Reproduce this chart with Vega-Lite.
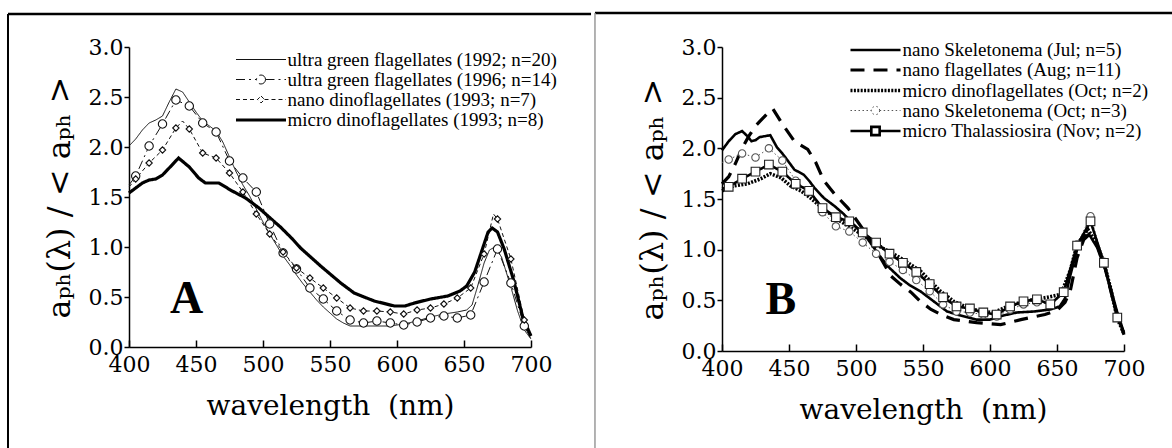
{
  "$schema": "https://vega.github.io/schema/vega-lite/v6.json",
  "background": "white",
  "padding": {"left": 6, "top": 11, "right": 0, "bottom": 0},
  "spacing": 0,
  "config": {
    "font": "Liberation Serif",
    "view": {"stroke": null},
    "axis": {"domainColor": "black", "domainWidth": 1.5, "tickColor": "black", "tickWidth": 1.5, "labelFontSize": 22, "labelColor": "black", "titleFontWeight": "normal", "titleColor": "black", "grid": false, "labelFlush": false, "labelOverlap": false},
    "legend": {"labelFont": "Liberation Serif", "labelFontSize": 19, "labelColor": "black", "labelLimit": 0, "padding": 0, "symbolSize": 278, "labelOffset": 16.5}
  },
  "datasets": {
    "d": [
      {"p":"A","s":"ultra green flagellates (1992; n=20)","x":400,"y":2.01},{"p":"A","s":"ultra green flagellates (1992; n=20)","x":405,"y":2.08},{"p":"A","s":"ultra green flagellates (1992; n=20)","x":410,"y":2.17},{"p":"A","s":"ultra green flagellates (1992; n=20)","x":415,"y":2.24},{"p":"A","s":"ultra green flagellates (1992; n=20)","x":420,"y":2.27},{"p":"A","s":"ultra green flagellates (1992; n=20)","x":425,"y":2.31},{"p":"A","s":"ultra green flagellates (1992; n=20)","x":430,"y":2.45},{"p":"A","s":"ultra green flagellates (1992; n=20)","x":435,"y":2.58},{"p":"A","s":"ultra green flagellates (1992; n=20)","x":440,"y":2.55},{"p":"A","s":"ultra green flagellates (1992; n=20)","x":445,"y":2.45},{"p":"A","s":"ultra green flagellates (1992; n=20)","x":450,"y":2.35},{"p":"A","s":"ultra green flagellates (1992; n=20)","x":455,"y":2.26},{"p":"A","s":"ultra green flagellates (1992; n=20)","x":460,"y":2.21},{"p":"A","s":"ultra green flagellates (1992; n=20)","x":465,"y":2.16},{"p":"A","s":"ultra green flagellates (1992; n=20)","x":470,"y":2.05},{"p":"A","s":"ultra green flagellates (1992; n=20)","x":475,"y":1.9},{"p":"A","s":"ultra green flagellates (1992; n=20)","x":480,"y":1.75},{"p":"A","s":"ultra green flagellates (1992; n=20)","x":485,"y":1.62},{"p":"A","s":"ultra green flagellates (1992; n=20)","x":490,"y":1.51},{"p":"A","s":"ultra green flagellates (1992; n=20)","x":495,"y":1.38},{"p":"A","s":"ultra green flagellates (1992; n=20)","x":500,"y":1.25},{"p":"A","s":"ultra green flagellates (1992; n=20)","x":505,"y":1.13},{"p":"A","s":"ultra green flagellates (1992; n=20)","x":510,"y":1.02},{"p":"A","s":"ultra green flagellates (1992; n=20)","x":515,"y":0.91},{"p":"A","s":"ultra green flagellates (1992; n=20)","x":520,"y":0.82},{"p":"A","s":"ultra green flagellates (1992; n=20)","x":525,"y":0.72},{"p":"A","s":"ultra green flagellates (1992; n=20)","x":530,"y":0.63},{"p":"A","s":"ultra green flagellates (1992; n=20)","x":535,"y":0.55},{"p":"A","s":"ultra green flagellates (1992; n=20)","x":540,"y":0.47},{"p":"A","s":"ultra green flagellates (1992; n=20)","x":545,"y":0.4},{"p":"A","s":"ultra green flagellates (1992; n=20)","x":550,"y":0.34},{"p":"A","s":"ultra green flagellates (1992; n=20)","x":555,"y":0.28},{"p":"A","s":"ultra green flagellates (1992; n=20)","x":560,"y":0.24},{"p":"A","s":"ultra green flagellates (1992; n=20)","x":565,"y":0.21},{"p":"A","s":"ultra green flagellates (1992; n=20)","x":575,"y":0.21},{"p":"A","s":"ultra green flagellates (1992; n=20)","x":585,"y":0.21},{"p":"A","s":"ultra green flagellates (1992; n=20)","x":595,"y":0.21},{"p":"A","s":"ultra green flagellates (1992; n=20)","x":605,"y":0.23},{"p":"A","s":"ultra green flagellates (1992; n=20)","x":615,"y":0.26},{"p":"A","s":"ultra green flagellates (1992; n=20)","x":625,"y":0.3},{"p":"A","s":"ultra green flagellates (1992; n=20)","x":635,"y":0.33},{"p":"A","s":"ultra green flagellates (1992; n=20)","x":645,"y":0.35},{"p":"A","s":"ultra green flagellates (1992; n=20)","x":652,"y":0.37},{"p":"A","s":"ultra green flagellates (1992; n=20)","x":656,"y":0.42},{"p":"A","s":"ultra green flagellates (1992; n=20)","x":660,"y":0.6},{"p":"A","s":"ultra green flagellates (1992; n=20)","x":665,"y":0.84},{"p":"A","s":"ultra green flagellates (1992; n=20)","x":669,"y":0.97},{"p":"A","s":"ultra green flagellates (1992; n=20)","x":673,"y":1.0},{"p":"A","s":"ultra green flagellates (1992; n=20)","x":678,"y":0.9},{"p":"A","s":"ultra green flagellates (1992; n=20)","x":685,"y":0.6},{"p":"A","s":"ultra green flagellates (1992; n=20)","x":690,"y":0.36},{"p":"A","s":"ultra green flagellates (1992; n=20)","x":695,"y":0.17},{"p":"A","s":"ultra green flagellates (1992; n=20)","x":700,"y":0.08},
      {"p":"A","s":"ultra green flagellates (1996; n=14)","x":400,"y":1.62},{"p":"A","s":"ultra green flagellates (1996; n=14)","x":405,"y":1.71},{"p":"A","s":"ultra green flagellates (1996; n=14)","x":415,"y":2.01},{"p":"A","s":"ultra green flagellates (1996; n=14)","x":425,"y":2.23},{"p":"A","s":"ultra green flagellates (1996; n=14)","x":435,"y":2.47},{"p":"A","s":"ultra green flagellates (1996; n=14)","x":445,"y":2.41},{"p":"A","s":"ultra green flagellates (1996; n=14)","x":455,"y":2.24},{"p":"A","s":"ultra green flagellates (1996; n=14)","x":465,"y":2.15},{"p":"A","s":"ultra green flagellates (1996; n=14)","x":475,"y":1.86},{"p":"A","s":"ultra green flagellates (1996; n=14)","x":485,"y":1.69},{"p":"A","s":"ultra green flagellates (1996; n=14)","x":495,"y":1.55},{"p":"A","s":"ultra green flagellates (1996; n=14)","x":505,"y":1.23},{"p":"A","s":"ultra green flagellates (1996; n=14)","x":515,"y":0.94},{"p":"A","s":"ultra green flagellates (1996; n=14)","x":525,"y":0.78},{"p":"A","s":"ultra green flagellates (1996; n=14)","x":535,"y":0.59},{"p":"A","s":"ultra green flagellates (1996; n=14)","x":545,"y":0.48},{"p":"A","s":"ultra green flagellates (1996; n=14)","x":555,"y":0.36},{"p":"A","s":"ultra green flagellates (1996; n=14)","x":565,"y":0.27},{"p":"A","s":"ultra green flagellates (1996; n=14)","x":575,"y":0.24},{"p":"A","s":"ultra green flagellates (1996; n=14)","x":585,"y":0.26},{"p":"A","s":"ultra green flagellates (1996; n=14)","x":595,"y":0.24},{"p":"A","s":"ultra green flagellates (1996; n=14)","x":605,"y":0.22},{"p":"A","s":"ultra green flagellates (1996; n=14)","x":615,"y":0.25},{"p":"A","s":"ultra green flagellates (1996; n=14)","x":625,"y":0.29},{"p":"A","s":"ultra green flagellates (1996; n=14)","x":635,"y":0.31},{"p":"A","s":"ultra green flagellates (1996; n=14)","x":645,"y":0.29},{"p":"A","s":"ultra green flagellates (1996; n=14)","x":655,"y":0.32},{"p":"A","s":"ultra green flagellates (1996; n=14)","x":665,"y":0.65},{"p":"A","s":"ultra green flagellates (1996; n=14)","x":675,"y":0.98},{"p":"A","s":"ultra green flagellates (1996; n=14)","x":685,"y":0.64},{"p":"A","s":"ultra green flagellates (1996; n=14)","x":695,"y":0.21},{"p":"A","s":"ultra green flagellates (1996; n=14)","x":700,"y":0.08},
      {"p":"A","s":"nano dinoflagellates (1993; n=7)","x":400,"y":1.6},{"p":"A","s":"nano dinoflagellates (1993; n=7)","x":405,"y":1.68},{"p":"A","s":"nano dinoflagellates (1993; n=7)","x":415,"y":1.84},{"p":"A","s":"nano dinoflagellates (1993; n=7)","x":425,"y":1.97},{"p":"A","s":"nano dinoflagellates (1993; n=7)","x":430,"y":2.08},{"p":"A","s":"nano dinoflagellates (1993; n=7)","x":435,"y":2.19},{"p":"A","s":"nano dinoflagellates (1993; n=7)","x":440,"y":2.26},{"p":"A","s":"nano dinoflagellates (1993; n=7)","x":445,"y":2.18},{"p":"A","s":"nano dinoflagellates (1993; n=7)","x":455,"y":1.94},{"p":"A","s":"nano dinoflagellates (1993; n=7)","x":465,"y":1.89},{"p":"A","s":"nano dinoflagellates (1993; n=7)","x":475,"y":1.74},{"p":"A","s":"nano dinoflagellates (1993; n=7)","x":485,"y":1.55},{"p":"A","s":"nano dinoflagellates (1993; n=7)","x":495,"y":1.33},{"p":"A","s":"nano dinoflagellates (1993; n=7)","x":505,"y":1.13},{"p":"A","s":"nano dinoflagellates (1993; n=7)","x":515,"y":0.95},{"p":"A","s":"nano dinoflagellates (1993; n=7)","x":525,"y":0.79},{"p":"A","s":"nano dinoflagellates (1993; n=7)","x":535,"y":0.69},{"p":"A","s":"nano dinoflagellates (1993; n=7)","x":545,"y":0.59},{"p":"A","s":"nano dinoflagellates (1993; n=7)","x":555,"y":0.49},{"p":"A","s":"nano dinoflagellates (1993; n=7)","x":565,"y":0.39},{"p":"A","s":"nano dinoflagellates (1993; n=7)","x":575,"y":0.36},{"p":"A","s":"nano dinoflagellates (1993; n=7)","x":585,"y":0.36},{"p":"A","s":"nano dinoflagellates (1993; n=7)","x":595,"y":0.35},{"p":"A","s":"nano dinoflagellates (1993; n=7)","x":605,"y":0.33},{"p":"A","s":"nano dinoflagellates (1993; n=7)","x":615,"y":0.37},{"p":"A","s":"nano dinoflagellates (1993; n=7)","x":625,"y":0.39},{"p":"A","s":"nano dinoflagellates (1993; n=7)","x":635,"y":0.43},{"p":"A","s":"nano dinoflagellates (1993; n=7)","x":645,"y":0.49},{"p":"A","s":"nano dinoflagellates (1993; n=7)","x":655,"y":0.59},{"p":"A","s":"nano dinoflagellates (1993; n=7)","x":665,"y":0.93},{"p":"A","s":"nano dinoflagellates (1993; n=7)","x":672,"y":1.33},{"p":"A","s":"nano dinoflagellates (1993; n=7)","x":675,"y":1.28},{"p":"A","s":"nano dinoflagellates (1993; n=7)","x":685,"y":0.88},{"p":"A","s":"nano dinoflagellates (1993; n=7)","x":695,"y":0.27},{"p":"A","s":"nano dinoflagellates (1993; n=7)","x":700,"y":0.12},
      {"p":"A","s":"micro dinoflagellates (1993; n=8)","x":400,"y":1.54},{"p":"A","s":"micro dinoflagellates (1993; n=8)","x":405,"y":1.59},{"p":"A","s":"micro dinoflagellates (1993; n=8)","x":410,"y":1.64},{"p":"A","s":"micro dinoflagellates (1993; n=8)","x":415,"y":1.67},{"p":"A","s":"micro dinoflagellates (1993; n=8)","x":420,"y":1.68},{"p":"A","s":"micro dinoflagellates (1993; n=8)","x":425,"y":1.72},{"p":"A","s":"micro dinoflagellates (1993; n=8)","x":430,"y":1.79},{"p":"A","s":"micro dinoflagellates (1993; n=8)","x":437,"y":1.89},{"p":"A","s":"micro dinoflagellates (1993; n=8)","x":445,"y":1.8},{"p":"A","s":"micro dinoflagellates (1993; n=8)","x":452,"y":1.69},{"p":"A","s":"micro dinoflagellates (1993; n=8)","x":457,"y":1.64},{"p":"A","s":"micro dinoflagellates (1993; n=8)","x":467,"y":1.64},{"p":"A","s":"micro dinoflagellates (1993; n=8)","x":477,"y":1.56},{"p":"A","s":"micro dinoflagellates (1993; n=8)","x":487,"y":1.49},{"p":"A","s":"micro dinoflagellates (1993; n=8)","x":497,"y":1.39},{"p":"A","s":"micro dinoflagellates (1993; n=8)","x":507,"y":1.27},{"p":"A","s":"micro dinoflagellates (1993; n=8)","x":513,"y":1.2},{"p":"A","s":"micro dinoflagellates (1993; n=8)","x":522,"y":1.08},{"p":"A","s":"micro dinoflagellates (1993; n=8)","x":528,"y":0.99},{"p":"A","s":"micro dinoflagellates (1993; n=8)","x":543,"y":0.81},{"p":"A","s":"micro dinoflagellates (1993; n=8)","x":558,"y":0.64},{"p":"A","s":"micro dinoflagellates (1993; n=8)","x":568,"y":0.54},{"p":"A","s":"micro dinoflagellates (1993; n=8)","x":583,"y":0.46},{"p":"A","s":"micro dinoflagellates (1993; n=8)","x":598,"y":0.41},{"p":"A","s":"micro dinoflagellates (1993; n=8)","x":606,"y":0.41},{"p":"A","s":"micro dinoflagellates (1993; n=8)","x":613,"y":0.44},{"p":"A","s":"micro dinoflagellates (1993; n=8)","x":625,"y":0.48},{"p":"A","s":"micro dinoflagellates (1993; n=8)","x":638,"y":0.51},{"p":"A","s":"micro dinoflagellates (1993; n=8)","x":647,"y":0.56},{"p":"A","s":"micro dinoflagellates (1993; n=8)","x":652,"y":0.61},{"p":"A","s":"micro dinoflagellates (1993; n=8)","x":658,"y":0.75},{"p":"A","s":"micro dinoflagellates (1993; n=8)","x":663,"y":0.95},{"p":"A","s":"micro dinoflagellates (1993; n=8)","x":668,"y":1.15},{"p":"A","s":"micro dinoflagellates (1993; n=8)","x":671,"y":1.19},{"p":"A","s":"micro dinoflagellates (1993; n=8)","x":675,"y":1.15},{"p":"A","s":"micro dinoflagellates (1993; n=8)","x":680,"y":0.98},{"p":"A","s":"micro dinoflagellates (1993; n=8)","x":687,"y":0.67},{"p":"A","s":"micro dinoflagellates (1993; n=8)","x":694,"y":0.29},{"p":"A","s":"micro dinoflagellates (1993; n=8)","x":700,"y":0.11},
      {"p":"B","s":"nano Skeletonema (Jul; n=5)","x":400,"y":1.98},{"p":"B","s":"nano Skeletonema (Jul; n=5)","x":405,"y":2.07},{"p":"B","s":"nano Skeletonema (Jul; n=5)","x":410,"y":2.14},{"p":"B","s":"nano Skeletonema (Jul; n=5)","x":415,"y":2.17},{"p":"B","s":"nano Skeletonema (Jul; n=5)","x":419,"y":2.12},{"p":"B","s":"nano Skeletonema (Jul; n=5)","x":422,"y":2.07},{"p":"B","s":"nano Skeletonema (Jul; n=5)","x":425,"y":2.08},{"p":"B","s":"nano Skeletonema (Jul; n=5)","x":428,"y":2.11},{"p":"B","s":"nano Skeletonema (Jul; n=5)","x":432,"y":2.12},{"p":"B","s":"nano Skeletonema (Jul; n=5)","x":436,"y":2.13},{"p":"B","s":"nano Skeletonema (Jul; n=5)","x":441,"y":2.01},{"p":"B","s":"nano Skeletonema (Jul; n=5)","x":445,"y":1.95},{"p":"B","s":"nano Skeletonema (Jul; n=5)","x":449,"y":1.88},{"p":"B","s":"nano Skeletonema (Jul; n=5)","x":454,"y":1.79},{"p":"B","s":"nano Skeletonema (Jul; n=5)","x":461,"y":1.74},{"p":"B","s":"nano Skeletonema (Jul; n=5)","x":465,"y":1.68},{"p":"B","s":"nano Skeletonema (Jul; n=5)","x":469,"y":1.61},{"p":"B","s":"nano Skeletonema (Jul; n=5)","x":476,"y":1.51},{"p":"B","s":"nano Skeletonema (Jul; n=5)","x":484,"y":1.43},{"p":"B","s":"nano Skeletonema (Jul; n=5)","x":491,"y":1.35},{"p":"B","s":"nano Skeletonema (Jul; n=5)","x":498,"y":1.25},{"p":"B","s":"nano Skeletonema (Jul; n=5)","x":508,"y":1.12},{"p":"B","s":"nano Skeletonema (Jul; n=5)","x":518,"y":0.93},{"p":"B","s":"nano Skeletonema (Jul; n=5)","x":525,"y":0.82},{"p":"B","s":"nano Skeletonema (Jul; n=5)","x":533,"y":0.72},{"p":"B","s":"nano Skeletonema (Jul; n=5)","x":540,"y":0.65},{"p":"B","s":"nano Skeletonema (Jul; n=5)","x":548,"y":0.59},{"p":"B","s":"nano Skeletonema (Jul; n=5)","x":558,"y":0.49},{"p":"B","s":"nano Skeletonema (Jul; n=5)","x":568,"y":0.39},{"p":"B","s":"nano Skeletonema (Jul; n=5)","x":578,"y":0.35},{"p":"B","s":"nano Skeletonema (Jul; n=5)","x":590,"y":0.31},{"p":"B","s":"nano Skeletonema (Jul; n=5)","x":600,"y":0.31},{"p":"B","s":"nano Skeletonema (Jul; n=5)","x":610,"y":0.35},{"p":"B","s":"nano Skeletonema (Jul; n=5)","x":620,"y":0.38},{"p":"B","s":"nano Skeletonema (Jul; n=5)","x":633,"y":0.39},{"p":"B","s":"nano Skeletonema (Jul; n=5)","x":645,"y":0.41},{"p":"B","s":"nano Skeletonema (Jul; n=5)","x":652,"y":0.44},{"p":"B","s":"nano Skeletonema (Jul; n=5)","x":656,"y":0.52},{"p":"B","s":"nano Skeletonema (Jul; n=5)","x":660,"y":0.75},{"p":"B","s":"nano Skeletonema (Jul; n=5)","x":665,"y":1.0},{"p":"B","s":"nano Skeletonema (Jul; n=5)","x":670,"y":1.13},{"p":"B","s":"nano Skeletonema (Jul; n=5)","x":674,"y":1.15},{"p":"B","s":"nano Skeletonema (Jul; n=5)","x":680,"y":1.02},{"p":"B","s":"nano Skeletonema (Jul; n=5)","x":686,"y":0.8},{"p":"B","s":"nano Skeletonema (Jul; n=5)","x":690,"y":0.62},{"p":"B","s":"nano Skeletonema (Jul; n=5)","x":695,"y":0.38},{"p":"B","s":"nano Skeletonema (Jul; n=5)","x":700,"y":0.18},
      {"p":"B","s":"nano flagellates (Aug; n=11)","x":400,"y":1.65},{"p":"B","s":"nano flagellates (Aug; n=11)","x":405,"y":1.72},{"p":"B","s":"nano flagellates (Aug; n=11)","x":410,"y":1.85},{"p":"B","s":"nano flagellates (Aug; n=11)","x":415,"y":2.0},{"p":"B","s":"nano flagellates (Aug; n=11)","x":420,"y":2.12},{"p":"B","s":"nano flagellates (Aug; n=11)","x":425,"y":2.22},{"p":"B","s":"nano flagellates (Aug; n=11)","x":430,"y":2.29},{"p":"B","s":"nano flagellates (Aug; n=11)","x":435,"y":2.36},{"p":"B","s":"nano flagellates (Aug; n=11)","x":438,"y":2.39},{"p":"B","s":"nano flagellates (Aug; n=11)","x":445,"y":2.24},{"p":"B","s":"nano flagellates (Aug; n=11)","x":454,"y":2.07},{"p":"B","s":"nano flagellates (Aug; n=11)","x":464,"y":1.99},{"p":"B","s":"nano flagellates (Aug; n=11)","x":470,"y":1.86},{"p":"B","s":"nano flagellates (Aug; n=11)","x":476,"y":1.68},{"p":"B","s":"nano flagellates (Aug; n=11)","x":484,"y":1.55},{"p":"B","s":"nano flagellates (Aug; n=11)","x":494,"y":1.41},{"p":"B","s":"nano flagellates (Aug; n=11)","x":501,"y":1.28},{"p":"B","s":"nano flagellates (Aug; n=11)","x":508,"y":1.15},{"p":"B","s":"nano flagellates (Aug; n=11)","x":515,"y":1.0},{"p":"B","s":"nano flagellates (Aug; n=11)","x":520,"y":0.88},{"p":"B","s":"nano flagellates (Aug; n=11)","x":526,"y":0.74},{"p":"B","s":"nano flagellates (Aug; n=11)","x":533,"y":0.66},{"p":"B","s":"nano flagellates (Aug; n=11)","x":541,"y":0.58},{"p":"B","s":"nano flagellates (Aug; n=11)","x":548,"y":0.49},{"p":"B","s":"nano flagellates (Aug; n=11)","x":556,"y":0.41},{"p":"B","s":"nano flagellates (Aug; n=11)","x":565,"y":0.35},{"p":"B","s":"nano flagellates (Aug; n=11)","x":573,"y":0.31},{"p":"B","s":"nano flagellates (Aug; n=11)","x":590,"y":0.28},{"p":"B","s":"nano flagellates (Aug; n=11)","x":608,"y":0.26},{"p":"B","s":"nano flagellates (Aug; n=11)","x":623,"y":0.31},{"p":"B","s":"nano flagellates (Aug; n=11)","x":641,"y":0.36},{"p":"B","s":"nano flagellates (Aug; n=11)","x":650,"y":0.4},{"p":"B","s":"nano flagellates (Aug; n=11)","x":656,"y":0.48},{"p":"B","s":"nano flagellates (Aug; n=11)","x":660,"y":0.6},{"p":"B","s":"nano flagellates (Aug; n=11)","x":665,"y":0.92},{"p":"B","s":"nano flagellates (Aug; n=11)","x":670,"y":1.1},{"p":"B","s":"nano flagellates (Aug; n=11)","x":674,"y":1.15},{"p":"B","s":"nano flagellates (Aug; n=11)","x":680,"y":1.05},{"p":"B","s":"nano flagellates (Aug; n=11)","x":686,"y":0.82},{"p":"B","s":"nano flagellates (Aug; n=11)","x":690,"y":0.6},{"p":"B","s":"nano flagellates (Aug; n=11)","x":695,"y":0.35},{"p":"B","s":"nano flagellates (Aug; n=11)","x":700,"y":0.16},
      {"p":"B","s":"micro dinoflagellates (Oct; n=2)","x":400,"y":1.58},{"p":"B","s":"micro dinoflagellates (Oct; n=2)","x":409,"y":1.63},{"p":"B","s":"micro dinoflagellates (Oct; n=2)","x":419,"y":1.65},{"p":"B","s":"micro dinoflagellates (Oct; n=2)","x":429,"y":1.7},{"p":"B","s":"micro dinoflagellates (Oct; n=2)","x":436,"y":1.75},{"p":"B","s":"micro dinoflagellates (Oct; n=2)","x":444,"y":1.71},{"p":"B","s":"micro dinoflagellates (Oct; n=2)","x":451,"y":1.63},{"p":"B","s":"micro dinoflagellates (Oct; n=2)","x":459,"y":1.58},{"p":"B","s":"micro dinoflagellates (Oct; n=2)","x":466,"y":1.51},{"p":"B","s":"micro dinoflagellates (Oct; n=2)","x":476,"y":1.4},{"p":"B","s":"micro dinoflagellates (Oct; n=2)","x":486,"y":1.3},{"p":"B","s":"micro dinoflagellates (Oct; n=2)","x":496,"y":1.22},{"p":"B","s":"micro dinoflagellates (Oct; n=2)","x":508,"y":1.12},{"p":"B","s":"micro dinoflagellates (Oct; n=2)","x":518,"y":1.03},{"p":"B","s":"micro dinoflagellates (Oct; n=2)","x":533,"y":0.92},{"p":"B","s":"micro dinoflagellates (Oct; n=2)","x":548,"y":0.79},{"p":"B","s":"micro dinoflagellates (Oct; n=2)","x":563,"y":0.59},{"p":"B","s":"micro dinoflagellates (Oct; n=2)","x":573,"y":0.49},{"p":"B","s":"micro dinoflagellates (Oct; n=2)","x":583,"y":0.43},{"p":"B","s":"micro dinoflagellates (Oct; n=2)","x":593,"y":0.39},{"p":"B","s":"micro dinoflagellates (Oct; n=2)","x":603,"y":0.38},{"p":"B","s":"micro dinoflagellates (Oct; n=2)","x":613,"y":0.44},{"p":"B","s":"micro dinoflagellates (Oct; n=2)","x":623,"y":0.48},{"p":"B","s":"micro dinoflagellates (Oct; n=2)","x":633,"y":0.51},{"p":"B","s":"micro dinoflagellates (Oct; n=2)","x":643,"y":0.53},{"p":"B","s":"micro dinoflagellates (Oct; n=2)","x":653,"y":0.56},{"p":"B","s":"micro dinoflagellates (Oct; n=2)","x":660,"y":0.8},{"p":"B","s":"micro dinoflagellates (Oct; n=2)","x":665,"y":1.05},{"p":"B","s":"micro dinoflagellates (Oct; n=2)","x":673,"y":1.2},{"p":"B","s":"micro dinoflagellates (Oct; n=2)","x":680,"y":1.05},{"p":"B","s":"micro dinoflagellates (Oct; n=2)","x":685,"y":0.87},{"p":"B","s":"micro dinoflagellates (Oct; n=2)","x":690,"y":0.62},{"p":"B","s":"micro dinoflagellates (Oct; n=2)","x":695,"y":0.32},{"p":"B","s":"micro dinoflagellates (Oct; n=2)","x":700,"y":0.17},
      {"p":"B","s":"nano Skeletonema (Oct; n=3)","x":400,"y":1.86},{"p":"B","s":"nano Skeletonema (Oct; n=3)","x":405,"y":1.89},{"p":"B","s":"nano Skeletonema (Oct; n=3)","x":415,"y":1.95},{"p":"B","s":"nano Skeletonema (Oct; n=3)","x":425,"y":1.91},{"p":"B","s":"nano Skeletonema (Oct; n=3)","x":435,"y":2.0},{"p":"B","s":"nano Skeletonema (Oct; n=3)","x":445,"y":1.88},{"p":"B","s":"nano Skeletonema (Oct; n=3)","x":455,"y":1.68},{"p":"B","s":"nano Skeletonema (Oct; n=3)","x":465,"y":1.58},{"p":"B","s":"nano Skeletonema (Oct; n=3)","x":475,"y":1.37},{"p":"B","s":"nano Skeletonema (Oct; n=3)","x":485,"y":1.23},{"p":"B","s":"nano Skeletonema (Oct; n=3)","x":495,"y":1.18},{"p":"B","s":"nano Skeletonema (Oct; n=3)","x":505,"y":1.07},{"p":"B","s":"nano Skeletonema (Oct; n=3)","x":515,"y":0.96},{"p":"B","s":"nano Skeletonema (Oct; n=3)","x":525,"y":0.88},{"p":"B","s":"nano Skeletonema (Oct; n=3)","x":535,"y":0.8},{"p":"B","s":"nano Skeletonema (Oct; n=3)","x":545,"y":0.7},{"p":"B","s":"nano Skeletonema (Oct; n=3)","x":555,"y":0.59},{"p":"B","s":"nano Skeletonema (Oct; n=3)","x":565,"y":0.46},{"p":"B","s":"nano Skeletonema (Oct; n=3)","x":575,"y":0.39},{"p":"B","s":"nano Skeletonema (Oct; n=3)","x":585,"y":0.38},{"p":"B","s":"nano Skeletonema (Oct; n=3)","x":595,"y":0.36},{"p":"B","s":"nano Skeletonema (Oct; n=3)","x":605,"y":0.34},{"p":"B","s":"nano Skeletonema (Oct; n=3)","x":615,"y":0.41},{"p":"B","s":"nano Skeletonema (Oct; n=3)","x":625,"y":0.46},{"p":"B","s":"nano Skeletonema (Oct; n=3)","x":635,"y":0.48},{"p":"B","s":"nano Skeletonema (Oct; n=3)","x":645,"y":0.46},{"p":"B","s":"nano Skeletonema (Oct; n=3)","x":655,"y":0.59},{"p":"B","s":"nano Skeletonema (Oct; n=3)","x":665,"y":1.05},{"p":"B","s":"nano Skeletonema (Oct; n=3)","x":675,"y":1.33},{"p":"B","s":"nano Skeletonema (Oct; n=3)","x":685,"y":0.88},{"p":"B","s":"nano Skeletonema (Oct; n=3)","x":695,"y":0.33},{"p":"B","s":"nano Skeletonema (Oct; n=3)","x":700,"y":0.19},
      {"p":"B","s":"micro Thalassiosira (Nov; n=2)","x":400,"y":1.6},{"p":"B","s":"micro Thalassiosira (Nov; n=2)","x":405,"y":1.62},{"p":"B","s":"micro Thalassiosira (Nov; n=2)","x":415,"y":1.7},{"p":"B","s":"micro Thalassiosira (Nov; n=2)","x":425,"y":1.77},{"p":"B","s":"micro Thalassiosira (Nov; n=2)","x":435,"y":1.84},{"p":"B","s":"micro Thalassiosira (Nov; n=2)","x":445,"y":1.77},{"p":"B","s":"micro Thalassiosira (Nov; n=2)","x":455,"y":1.65},{"p":"B","s":"micro Thalassiosira (Nov; n=2)","x":465,"y":1.58},{"p":"B","s":"micro Thalassiosira (Nov; n=2)","x":475,"y":1.41},{"p":"B","s":"micro Thalassiosira (Nov; n=2)","x":485,"y":1.32},{"p":"B","s":"micro Thalassiosira (Nov; n=2)","x":495,"y":1.28},{"p":"B","s":"micro Thalassiosira (Nov; n=2)","x":505,"y":1.17},{"p":"B","s":"micro Thalassiosira (Nov; n=2)","x":515,"y":1.07},{"p":"B","s":"micro Thalassiosira (Nov; n=2)","x":525,"y":0.96},{"p":"B","s":"micro Thalassiosira (Nov; n=2)","x":535,"y":0.87},{"p":"B","s":"micro Thalassiosira (Nov; n=2)","x":545,"y":0.78},{"p":"B","s":"micro Thalassiosira (Nov; n=2)","x":555,"y":0.66},{"p":"B","s":"micro Thalassiosira (Nov; n=2)","x":565,"y":0.53},{"p":"B","s":"micro Thalassiosira (Nov; n=2)","x":575,"y":0.44},{"p":"B","s":"micro Thalassiosira (Nov; n=2)","x":585,"y":0.42},{"p":"B","s":"micro Thalassiosira (Nov; n=2)","x":595,"y":0.38},{"p":"B","s":"micro Thalassiosira (Nov; n=2)","x":605,"y":0.36},{"p":"B","s":"micro Thalassiosira (Nov; n=2)","x":615,"y":0.44},{"p":"B","s":"micro Thalassiosira (Nov; n=2)","x":625,"y":0.49},{"p":"B","s":"micro Thalassiosira (Nov; n=2)","x":635,"y":0.51},{"p":"B","s":"micro Thalassiosira (Nov; n=2)","x":645,"y":0.46},{"p":"B","s":"micro Thalassiosira (Nov; n=2)","x":655,"y":0.58},{"p":"B","s":"micro Thalassiosira (Nov; n=2)","x":665,"y":1.04},{"p":"B","s":"micro Thalassiosira (Nov; n=2)","x":675,"y":1.28},{"p":"B","s":"micro Thalassiosira (Nov; n=2)","x":685,"y":0.87},{"p":"B","s":"micro Thalassiosira (Nov; n=2)","x":695,"y":0.33},{"p":"B","s":"micro Thalassiosira (Nov; n=2)","x":700,"y":0.18}
    ]
  },
  "hconcat": [
    {
      "width": 402, "height": 300,
      "layer": [
        {"data": {"values": [{}]}, "mark": {"type": "rule", "color": "black", "strokeWidth": 2.5}, "encoding": {"x": {"datum": 309.7, "type": "quantitative"}, "x2": {"datum": 744.8}, "y": {"datum": 3.33, "type": "quantitative"}}},
        {"data": {"values": [{}]}, "mark": {"type": "rule", "color": "black", "strokeWidth": 2}, "encoding": {"x": {"datum": 309.7, "type": "quantitative"}, "y": {"datum": 3.33, "type": "quantitative"}, "y2": {"datum": -1.06}}},
        {"data": {"name": "d"}, "transform": [{"filter": "datum.p === 'A'"}],
          "mark": {"type": "line"},
          "encoding": {
            "x": {"field": "x", "type": "quantitative", "scale": {"domain": [400, 700], "nice": false, "zero": false}, "axis": {"values": [400, 450, 500, 550, 600, 650, 700], "title": "wavelength\u00a0\u00a0(nm)", "labelFont": "DejaVu Serif", "titleFont": "DejaVu Serif", "tickSize": -7, "labelPadding": 14, "titlePadding": 17, "titleFontSize": 28}},
            "y": {"field": "y", "type": "quantitative", "scale": {"domain": [0, 3], "nice": false, "zero": false}, "axis": {"values": [0, 0.5, 1, 1.5, 2, 2.5, 3], "format": ".1f", "labelFont": "DejaVu Serif", "titleFont": "DejaVu Serif", "tickSize": 5, "labelPadding": 1, "title": "aₚₕ(λ) / < aₚₕ >", "titleFontSize": 32, "titlePadding": 12}},
            "color": {"field": "s", "type": "nominal", "scale": {"domain": ["ultra green flagellates (1992; n=20)", "ultra green flagellates (1996; n=14)", "nano dinoflagellates (1993; n=7)", "micro dinoflagellates (1993; n=8)"], "range": ["#111", "#111", "#111", "#000"]},
              "legend": {"title": null, "orient": "none", "legendX": 122, "legendY": 3, "rowPadding": 0, "encode": {"symbols": {"update": {"fill": {"value": "white"}, "shape": {"signal": "indexof(datum.value, '1996') >= 0 ? 'M-3,0H-0.54M0.54,0H3M0.54,0A0.54,0.54,0,1,1,-0.54,0A0.54,0.54,0,1,1,0.54,0' : (indexof(datum.value, 'n=7') >= 0 ? 'M-3,0H-0.42M0.42,0H3M0,-0.42L0.42,0L0,0.42L-0.42,0Z' : 'M-3,0H3')"}}}}}},
            "strokeDash": {"field": "s", "type": "nominal", "scale": {"domain": ["ultra green flagellates (1992; n=20)", "ultra green flagellates (1996; n=14)", "nano dinoflagellates (1993; n=7)", "micro dinoflagellates (1993; n=8)"], "range": [[1, 0], [9, 4, 2, 4], [4, 3], [1, 0]]}},
            "strokeWidth": {"field": "s", "type": "nominal", "scale": {"type": "ordinal", "domain": ["ultra green flagellates (1992; n=20)", "ultra green flagellates (1996; n=14)", "nano dinoflagellates (1993; n=7)", "micro dinoflagellates (1993; n=8)"], "range": [1, 1, 1, 3.2]}}
          }
        },
        {"data": {"name": "d"}, "transform": [{"filter": "datum.p === 'A'"}, {"filter": {"field": "s", "oneOf": ["ultra green flagellates (1996; n=14)", "nano dinoflagellates (1993; n=7)"]}}, {"filter": "datum.x % 10 === 5"}],
          "mark": {"type": "point", "filled": true, "fill": "white", "stroke": "#111", "strokeWidth": 1.1, "opacity": 1},
          "encoding": {
            "x": {"field": "x", "type": "quantitative"},
            "y": {"field": "y", "type": "quantitative"},
            "shape": {"field": "s", "type": "nominal", "scale": {"domain": ["ultra green flagellates (1996; n=14)", "nano dinoflagellates (1993; n=7)"], "range": ["circle", "diamond"]}, "legend": null},
            "size": {"field": "s", "type": "nominal", "scale": {"type": "ordinal", "domain": ["ultra green flagellates (1996; n=14)", "nano dinoflagellates (1993; n=7)"], "range": [70, 40]}, "legend": null}
          }
        },
        {"data": {"values": [{}]}, "mark": {"type": "text", "text": "A", "font": "Liberation Serif", "fontWeight": "bold", "fontSize": 46, "align": "center", "baseline": "middle", "color": "black"}, "encoding": {"x": {"datum": 443, "type": "quantitative"}, "y": {"datum": 0.48, "type": "quantitative"}}}
      ]
    },
    {
      "width": 402, "height": 304,
      "layer": [
        {"data": {"values": [{}]}, "mark": {"type": "rule", "color": "black", "strokeWidth": 2.5}, "encoding": {"x": {"datum": 305.2, "type": "quantitative"}, "x2": {"datum": 736.6}, "y": {"datum": 3.336, "type": "quantitative"}}},
        {"data": {"values": [{}]}, "mark": {"type": "rule", "color": "#999", "strokeWidth": 1.5}, "encoding": {"x": {"datum": 305.2, "type": "quantitative"}, "y": {"datum": 3.336, "type": "quantitative"}, "y2": {"datum": -1.05}}},
        {"data": {"name": "d"}, "transform": [{"filter": "datum.p === 'B'"}],
          "mark": {"type": "line"},
          "encoding": {
            "x": {"field": "x", "type": "quantitative", "scale": {"domain": [400, 700], "nice": false, "zero": false}, "axis": {"values": [400, 450, 500, 550, 600, 650, 700], "title": "wavelength\u00a0\u00a0(nm)", "labelFont": "DejaVu Serif", "titleFont": "DejaVu Serif", "tickSize": -7, "labelPadding": 14, "titlePadding": 17, "titleFontSize": 28}},
            "y": {"field": "y", "type": "quantitative", "scale": {"domain": [0, 3], "nice": false, "zero": false}, "axis": {"values": [0, 0.5, 1, 1.5, 2, 2.5, 3], "format": ".1f", "labelFont": "DejaVu Serif", "titleFont": "DejaVu Serif", "tickSize": 5, "labelPadding": 1, "title": "aₚₕ(λ) / < aₚₕ >", "titleFontSize": 32, "titlePadding": 12}},
            "color": {"field": "s", "type": "nominal", "scale": {"domain": ["nano Skeletonema (Jul; n=5)", "nano flagellates (Aug; n=11)", "micro dinoflagellates (Oct; n=2)", "nano Skeletonema (Oct; n=3)", "micro Thalassiosira (Nov; n=2)"], "range": ["#000", "#000", "#000", "#555", "#000"]},
              "legend": {"title": null, "orient": "none", "legendX": 143, "legendY": -7, "rowPadding": 0, "encode": {"symbols": {"update": {"fill": {"value": "white"}, "shape": {"signal": "indexof(datum.value, 'Oct; n=3') >= 0 ? 'M-3,0H-0.5M0.5,0H3M0.5,0A0.5,0.5,0,1,1,-0.5,0A0.5,0.5,0,1,1,0.5,0' : (indexof(datum.value, 'Nov') >= 0 ? 'M-3,0H-0.5M0.5,0H3M-0.5,-0.5H0.5V0.5H-0.5Z' : 'M-3,0H3')"}}}}}},
            "strokeDash": {"field": "s", "type": "nominal", "scale": {"domain": ["nano Skeletonema (Jul; n=5)", "nano flagellates (Aug; n=11)", "micro dinoflagellates (Oct; n=2)", "nano Skeletonema (Oct; n=3)", "micro Thalassiosira (Nov; n=2)"], "range": [[1, 0], [14, 9], [2, 1.4], [1.5, 2.5], [1, 0]]}},
            "strokeWidth": {"field": "s", "type": "nominal", "scale": {"type": "ordinal", "domain": ["nano Skeletonema (Jul; n=5)", "nano flagellates (Aug; n=11)", "micro dinoflagellates (Oct; n=2)", "nano Skeletonema (Oct; n=3)", "micro Thalassiosira (Nov; n=2)"], "range": [2.6, 3.2, 3.6, 1, 2.6]}}
          }
        },
        {"data": {"name": "d"}, "transform": [{"filter": "datum.p === 'B'"}, {"filter": {"field": "s", "oneOf": ["nano Skeletonema (Oct; n=3)", "micro Thalassiosira (Nov; n=2)"]}}, {"filter": "datum.x % 10 === 5"}],
          "mark": {"type": "point", "filled": true, "fill": "white", "strokeWidth": 1.1, "opacity": 1},
          "encoding": {
            "x": {"field": "x", "type": "quantitative"},
            "y": {"field": "y", "type": "quantitative"},
            "shape": {"field": "s", "type": "nominal", "scale": {"domain": ["nano Skeletonema (Oct; n=3)", "micro Thalassiosira (Nov; n=2)"], "range": ["circle", "square"]}, "legend": null},
            "size": {"field": "s", "type": "nominal", "scale": {"type": "ordinal", "domain": ["nano Skeletonema (Oct; n=3)", "micro Thalassiosira (Nov; n=2)"], "range": [55, 75]}, "legend": null},
            "stroke": {"field": "s", "type": "nominal", "scale": {"domain": ["nano Skeletonema (Oct; n=3)", "micro Thalassiosira (Nov; n=2)"], "range": ["#555", "#222"]}, "legend": null}
          }
        },
        {"data": {"values": [{}]}, "mark": {"type": "text", "text": "B", "font": "Liberation Serif", "fontWeight": "bold", "fontSize": 46, "align": "center", "baseline": "middle", "color": "black"}, "encoding": {"x": {"datum": 444, "type": "quantitative"}, "y": {"datum": 0.5, "type": "quantitative"}}}
      ]
    }
  ],
  "resolve": {"scale": {"color": "independent", "strokeDash": "independent", "strokeWidth": "independent", "shape": "independent", "size": "independent", "stroke": "independent"}}
}
